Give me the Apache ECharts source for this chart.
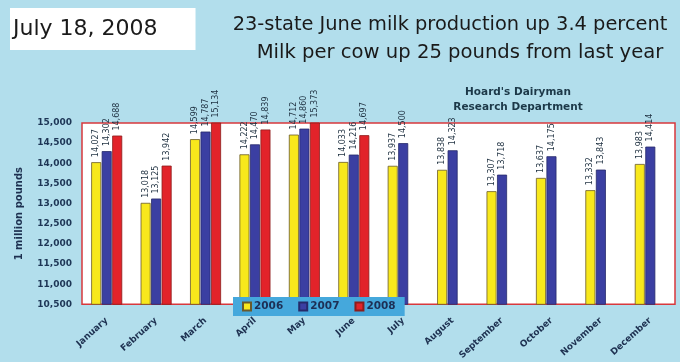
<!DOCTYPE html>
<html>
<head>
<meta charset="utf-8">
<script src="https://cdn.jsdelivr.net/npm/echarts@6/dist/echarts.min.js"></script>
<style>
html,body{margin:0;padding:0;background:#b2deec;}
#chart{width:680px;height:362px;}
</style>
</head>
<body>
<div id="chart"></div>
<script>
const months = ['January','February','March','April','May','June','July','August','September','October','November','December'];
const years = ['2006','2007','2008'];
const prod2006 = [14027, 13018, 14599, 14222, 14712, 14033, 13937, 13838, 13307, 13637, 13332, 13983];
const prod2007 = [14302, 13125, 14787, 14470, 14860, 14216, 14500, 14323, 13718, 14175, 13843, 14414];
const prod2008 = [14688, 13942, 15134, 14839, 15373, 14697, null, null, null, null, null, null];
const yTicks = [10500, 11000, 11500, 12000, 12500, 13000, 13500, 14000, 14500, 15000];

const colors = ['#f8e81c', '#3b3fa2', '#e2232a'];
const borders = ['#6a5a2c', '#262a6a', '#8c1c1c'];
const fmt = v => Number(v).toLocaleString('en-US');

const chart = echarts.init(document.getElementById('chart'));
const seriesData = [prod2006, prod2007, prod2008];
chart.setOption({
  backgroundColor: '#b2deec',
  animation: false,
  title: [
    { text: 'July 18, 2008', left: 10, top: 8, backgroundColor: '#ffffff',
      padding: [10, 38, 10, 3],
      textStyle: { fontFamily: 'DejaVu Sans', fontSize: 22, fontWeight: 'normal', color: '#1a1a1a' } },
    { text: '23-state June milk production up 3.4 percent', left: 445, top: 10, textAlign: 'center',
      textStyle: { fontFamily: 'DejaVu Sans', fontSize: 19.4, fontWeight: 'normal', color: '#1a1a1a' } },
    { text: 'Milk per cow up 25 pounds from last year', left: 455, top: 38, textAlign: 'center',
      textStyle: { fontFamily: 'DejaVu Sans', fontSize: 19.6, fontWeight: 'normal', color: '#1a1a1a' } },
    { text: "Hoard's Dairyman\nResearch Department", left: 513, top: 80, textAlign: 'center',
      textStyle: { fontFamily: 'DejaVu Sans', fontSize: 10.5, fontWeight: 'bold', color: '#1c3848', lineHeight: 15 } }
  ],
  legend: {
    data: years, left: 233, top: 297, backgroundColor: '#45a8dc',
    padding: [4, 9, 4, 9], itemWidth: 8, itemHeight: 8, itemGap: 15, icon: 'rect',
    textStyle: { fontFamily: 'DejaVu Sans', fontSize: 10.5, fontWeight: 'bold', color: '#1d2f55', padding: [0, 0, 0, -2] }
  },
  grid: { left: 82, right: 5, top: 123, bottom: 55, show: true, backgroundColor: '#ffffff',
    borderColor: '#d8383c', borderWidth: 1.5, containLabel: false },
  xAxis: {
    type: 'category', data: months,
    axisLine: { show: false }, axisTick: { show: false },
    axisLabel: { rotate: 42, interval: 0, margin: 15, fontFamily: 'DejaVu Sans', fontSize: 9, fontWeight: 'bold', color: '#1d3050' }
  },
  yAxis: {
    type: 'value', min: yTicks[0], max: yTicks[yTicks.length - 1], interval: 500,
    name: '1 million pounds', nameLocation: 'middle', nameGap: 58,
    nameTextStyle: { fontFamily: 'DejaVu Sans', fontSize: 10, fontWeight: 'bold', color: '#1d3050' },
    axisLine: { show: false }, axisTick: { show: false }, splitLine: { show: false },
    axisLabel: { margin: 10, fontFamily: 'DejaVu Sans', fontSize: 9, fontWeight: 'bold', color: '#1d3656', formatter: fmt }
  },
  series: years.map((y, i) => ({
    name: y, type: 'bar', data: seriesData[i], barWidth: 10, barGap: '5%', clip: true,
    itemStyle: { color: colors[i], borderColor: borders[i], borderWidth: 0.8 },
    label: { show: true, position: 'top', rotate: 90, align: 'left', verticalAlign: 'middle', distance: 5,
      fontFamily: 'DejaVu Sans', fontSize: 8, color: '#1e3040',
      formatter: p => p.value == null ? '' : fmt(p.value) }
  }))
});
</script>
</body>
</html>
